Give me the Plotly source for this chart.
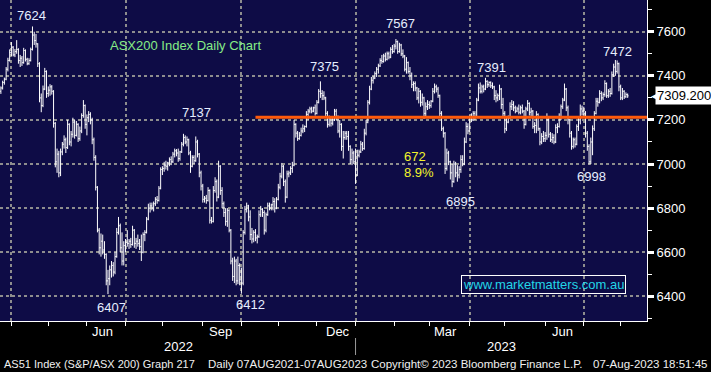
import pandas as pd
import plotly.graph_objects as go

# ---------------- data ----------------
opens = [
    7330, 7345, 7370, 7385, 7430, 7470, 7505, 7530, 7495, 7510,
    7520, 7470, 7480, 7460, 7515, 7475, 7455, 7470, 7520, 7585,
    7560, 7545, 7455, 7300, 7265, 7340, 7420, 7320, 7335, 7350,
    7330, 7185, 7010, 7045, 6960, 7055, 7090, 7110, 7075, 7180,
    7100, 7135, 7190, 7130, 7180, 7115, 7150, 7220, 7265, 7180,
    7210, 7225, 7200, 7110, 7030, 6895, 6700, 6620, 6650, 6610,
    6590, 6470, 6480, 6520, 6540, 6510, 6580, 6690, 6720, 6620,
    6560, 6630, 6645, 6640, 6650, 6635, 6700, 6640, 6650, 6640,
    6625, 6600, 6680, 6690, 6750, 6800, 6810, 6800, 6820, 6840,
    6835, 6890, 6975, 6980, 6995, 6990, 7005, 7020, 7010, 7045,
    7060, 7050, 7025, 7055, 7090, 7120, 7100, 7110, 7050, 6990,
    7030, 7015, 7100, 7045, 6960, 6900, 6840, 6845, 6835, 6880,
    6745, 6740, 6880, 6920, 6850, 6990, 6880, 6820, 6780, 6740,
    6790, 6700, 6560, 6490, 6560, 6470, 6540, 6475, 6460, 6690,
    6795, 6810, 6760, 6680, 6660, 6690, 6665, 6670, 6770, 6795,
    6780, 6700, 6770, 6810, 6800, 6815, 6830, 6800, 6840, 6895,
    6945, 6990, 6920, 6850, 6955, 6960, 6980, 6995, 7180, 7140,
    7115, 7130, 7150, 7160, 7170, 7225, 7240, 7250, 7240, 7255,
    7230, 7280, 7330, 7320, 7310, 7300, 7230, 7180, 7210, 7185,
    7200, 7240, 7215, 7150, 7180, 7080, 7120, 7140, 7125, 7080,
    7020, 7050, 7010, 6950, 7040, 7055, 7090, 7070, 7140, 7190,
    7280, 7340, 7380, 7390, 7410, 7430, 7445, 7470, 7465, 7490,
    7475, 7500, 7485, 7520, 7510, 7535, 7555, 7510, 7540, 7500,
    7490, 7430, 7460, 7420, 7400, 7360, 7365, 7345, 7300, 7330,
    7280, 7300, 7230, 7260, 7270, 7265, 7285, 7330, 7350, 7340,
    7310, 7230, 7160, 7140, 6980, 7050, 7010, 6960, 6920, 7000,
    6960, 6950, 6975, 7020, 7000, 7100, 7170, 7150, 7210, 7200,
    7230, 7215, 7290, 7345, 7330, 7350, 7340, 7375, 7360, 7370,
    7355, 7350, 7310, 7300, 7310, 7340, 7270, 7230, 7160, 7190,
    7210, 7260, 7270, 7255, 7240, 7250, 7235, 7255, 7240, 7180,
    7250, 7275, 7235, 7240, 7170, 7175, 7225, 7160, 7100, 7125,
    7115, 7130, 7200, 7135, 7110, 7120, 7100, 7165, 7170, 7215,
    7260, 7290, 7340, 7255, 7200, 7140, 7080, 7110, 7090, 7170,
    7200, 7250, 7240, 7230, 7140, 7080, 7010, 7100, 7160, 7230,
    7285, 7280, 7320, 7300, 7315, 7365, 7310, 7330, 7320, 7405,
    7440, 7420, 7455, 7350, 7300, 7330, 7305, 7315,
]
highs = [
    7352, 7378, 7392, 7440, 7482, 7520, 7553, 7535, 7522, 7562,
    7525, 7495, 7490, 7527, 7520, 7482, 7480, 7528, 7624, 7600,
    7590, 7548, 7462, 7320, 7356, 7436, 7425, 7352, 7362, 7358,
    7335, 7190, 7070, 7060, 7070, 7100, 7130, 7120, 7200, 7185,
    7150, 7210, 7200, 7195, 7185, 7170, 7230, 7290, 7270, 7225,
    7240, 7235, 7210, 7120, 7040, 6900, 6710, 6685, 6680, 6650,
    6595, 6520, 6540, 6560, 6555, 6600, 6710, 6760, 6730, 6690,
    6650, 6660, 6700, 6660, 6665, 6720, 6705, 6665, 6680, 6660,
    6680, 6690, 6700, 6760, 6820, 6825, 6825, 6830, 6850, 6855,
    6900, 6985, 6990, 7010, 7015, 7010, 7030, 7035, 7055, 7070,
    7068, 7070, 7060, 7100, 7137, 7130, 7125, 7115, 7060, 7040,
    7040, 7125, 7110, 7050, 6970, 6910, 6855, 6860, 6895, 6885,
    6760, 6900, 6940, 6930, 7015, 6995, 6895, 6830, 6800, 6800,
    6795, 6705, 6575, 6580, 6570, 6580, 6550, 6530, 6700, 6810,
    6825, 6815, 6790, 6710, 6700, 6705, 6680, 6790, 6810, 6800,
    6790, 6780, 6825, 6825, 6820, 6850, 6845, 6850, 6910, 6960,
    7005, 6995, 6930, 6970, 6970, 6990, 7010, 7200, 7185, 7150,
    7145, 7165, 7180, 7175, 7240, 7250, 7260, 7260, 7260, 7270,
    7290, 7340, 7375, 7335, 7330, 7305, 7240, 7220, 7215, 7210,
    7250, 7250, 7220, 7200, 7185, 7150, 7150, 7150, 7150, 7085,
    7070, 7060, 7070, 7065, 7065, 7105, 7100, 7160, 7200, 7290,
    7355, 7395, 7400, 7420, 7440, 7455, 7480, 7495, 7500, 7505,
    7510, 7510, 7530, 7540, 7545, 7567, 7560, 7550, 7545, 7520,
    7495, 7485, 7465, 7440, 7415, 7375, 7375, 7350, 7345, 7335,
    7320, 7305, 7280, 7290, 7285, 7290, 7345, 7365, 7360, 7350,
    7315, 7240, 7170, 7145, 7070, 7060, 7015, 7000, 7015, 7010,
    6995, 6990, 7040, 7040, 7120, 7190, 7185, 7220, 7230, 7240,
    7240, 7300, 7365, 7370, 7360, 7360, 7391, 7380, 7375, 7375,
    7370, 7355, 7335, 7320, 7360, 7345, 7300, 7240, 7210, 7220,
    7280, 7290, 7285, 7265, 7260, 7270, 7265, 7270, 7245, 7260,
    7290, 7280, 7255, 7245, 7190, 7240, 7230, 7165, 7140, 7150,
    7145, 7230, 7210, 7145, 7140, 7135, 7180, 7185, 7230, 7270,
    7300, 7365, 7345, 7265, 7205, 7150, 7120, 7120, 7180, 7210,
    7270, 7265, 7260, 7240, 7150, 7090, 7120, 7175, 7240, 7300,
    7300, 7335, 7330, 7325, 7380, 7370, 7340, 7345, 7420, 7455,
    7472, 7470, 7460, 7360, 7345, 7335, 7325, 7320,
]
lows = [
    7318, 7338, 7360, 7380, 7420, 7465, 7490, 7488, 7485, 7500,
    7455, 7440, 7445, 7455, 7465, 7448, 7450, 7465, 7515, 7540,
    7528, 7440, 7280, 7235, 7258, 7335, 7300, 7305, 7310, 7315,
    7165, 6985, 6960, 6940, 6945, 7040, 7070, 7050, 7068, 7085,
    7080, 7120, 7115, 7125, 7100, 7105, 7140, 7210, 7160, 7130,
    7190, 7180, 7090, 7015, 6880, 6690, 6590, 6580, 6590, 6570,
    6450, 6410, 6450, 6485, 6490, 6500, 6575, 6680, 6600, 6540,
    6540, 6600, 6625, 6615, 6620, 6630, 6620, 6615, 6625, 6610,
    6560, 6595, 6650, 6685, 6745, 6780, 6790, 6785, 6810, 6820,
    6830, 6885, 6950, 6965, 6975, 6970, 6990, 6995, 7005, 7030,
    7035, 7010, 7015, 7050, 7080, 7090, 7080, 7040, 6960, 6985,
    7000, 7010, 7030, 6940, 6880, 6825, 6825, 6820, 6830, 6730,
    6730, 6735, 6870, 6830, 6845, 6860, 6800, 6760, 6720, 6715,
    6690, 6545, 6470, 6460, 6450, 6455, 6450, 6412, 6450, 6680,
    6780, 6740, 6655, 6640, 6645, 6650, 6640, 6665, 6760, 6760,
    6680, 6690, 6765, 6790, 6790, 6790, 6780, 6795, 6835, 6885,
    6935, 6900, 6825, 6845, 6940, 6950, 6960, 6990, 7120, 7105,
    7110, 7125, 7140, 7145, 7165, 7200, 7230, 7230, 7235, 7220,
    7225, 7275, 7300, 7290, 7290, 7210, 7165, 7170, 7170, 7175,
    7195, 7200, 7140, 7120, 7060, 7025, 7110, 7110, 7060, 7000,
    6995, 7000, 6910, 6945, 7030, 7050, 7060, 7065, 7130, 7185,
    7270, 7335, 7365, 7385, 7395, 7410, 7440, 7455, 7460, 7465,
    7470, 7475, 7480, 7500, 7505, 7520, 7500, 7505, 7490, 7480,
    7420, 7410, 7410, 7380, 7345, 7330, 7330, 7290, 7275, 7260,
    7265, 7205, 7210, 7245, 7250, 7255, 7280, 7320, 7325, 7300,
    7215, 7150, 7120, 6955, 6970, 6995, 6930, 6895, 6915, 6940,
    6920, 6935, 6960, 6990, 6995, 7095, 7135, 7145, 7190, 7195,
    7200, 7210, 7285, 7320, 7320, 7325, 7335, 7345, 7350, 7345,
    7340, 7290, 7280, 7285, 7290, 7250, 7210, 7140, 7150, 7185,
    7205, 7245, 7240, 7230, 7235, 7225, 7225, 7230, 7160, 7175,
    7240, 7220, 7210, 7160, 7140, 7140, 7150, 7085, 7090, 7100,
    7100, 7110, 7120, 7100, 7095, 7090, 7095, 7140, 7165, 7200,
    7250, 7285, 7240, 7180, 7120, 7065, 7070, 7075, 7085, 7150,
    7180, 7220, 7220, 7120, 7060, 6998, 7000, 7040, 7150, 7225,
    7260, 7275, 7285, 7290, 7305, 7300, 7300, 7305, 7315, 7395,
    7400, 7410, 7330, 7290, 7290, 7295, 7300, 7300,
]
closes = [
    7345, 7370, 7385, 7430, 7470, 7505, 7530, 7495, 7510, 7520,
    7470, 7480, 7460, 7515, 7475, 7455, 7470, 7520, 7585, 7560,
    7545, 7455, 7300, 7265, 7340, 7420, 7320, 7335, 7350, 7330,
    7185, 7010, 7045, 6960, 7055, 7090, 7110, 7075, 7180, 7100,
    7135, 7190, 7130, 7180, 7115, 7150, 7220, 7265, 7180, 7210,
    7225, 7200, 7110, 7030, 6895, 6700, 6620, 6650, 6610, 6590,
    6470, 6480, 6520, 6540, 6510, 6580, 6690, 6720, 6620, 6560,
    6630, 6645, 6640, 6650, 6635, 6700, 6640, 6650, 6640, 6625,
    6600, 6680, 6690, 6750, 6800, 6810, 6800, 6820, 6840, 6835,
    6890, 6975, 6980, 6995, 6990, 7005, 7020, 7010, 7045, 7060,
    7050, 7025, 7055, 7090, 7120, 7100, 7110, 7050, 6990, 7030,
    7015, 7100, 7045, 6960, 6900, 6840, 6845, 6835, 6880, 6745,
    6740, 6880, 6920, 6850, 6990, 6880, 6820, 6780, 6740, 6790,
    6700, 6560, 6490, 6560, 6470, 6540, 6475, 6460, 6690, 6795,
    6810, 6760, 6680, 6660, 6690, 6665, 6670, 6770, 6795, 6780,
    6700, 6770, 6810, 6800, 6815, 6830, 6800, 6840, 6895, 6945,
    6990, 6920, 6850, 6955, 6960, 6980, 6995, 7180, 7140, 7115,
    7130, 7150, 7160, 7170, 7225, 7240, 7250, 7240, 7255, 7230,
    7280, 7330, 7320, 7310, 7300, 7230, 7180, 7210, 7185, 7200,
    7240, 7215, 7150, 7180, 7080, 7120, 7140, 7125, 7080, 7020,
    7050, 7010, 6950, 7040, 7055, 7090, 7070, 7140, 7190, 7280,
    7340, 7380, 7390, 7410, 7430, 7445, 7470, 7465, 7490, 7475,
    7500, 7485, 7520, 7510, 7535, 7555, 7510, 7540, 7500, 7490,
    7430, 7460, 7420, 7400, 7360, 7365, 7345, 7300, 7330, 7280,
    7300, 7230, 7260, 7270, 7265, 7285, 7330, 7350, 7340, 7310,
    7230, 7160, 7140, 6980, 7050, 7010, 6960, 6920, 7000, 6960,
    6950, 6975, 7020, 7000, 7100, 7170, 7150, 7210, 7200, 7230,
    7215, 7290, 7345, 7330, 7350, 7340, 7375, 7360, 7370, 7355,
    7350, 7310, 7300, 7310, 7340, 7270, 7230, 7160, 7190, 7210,
    7260, 7270, 7255, 7240, 7250, 7235, 7255, 7240, 7180, 7250,
    7275, 7235, 7240, 7170, 7175, 7225, 7160, 7100, 7125, 7115,
    7130, 7200, 7135, 7110, 7120, 7100, 7165, 7170, 7215, 7260,
    7290, 7340, 7255, 7200, 7140, 7080, 7110, 7090, 7170, 7200,
    7250, 7240, 7230, 7140, 7080, 7010, 7100, 7160, 7230, 7285,
    7280, 7320, 7300, 7315, 7365, 7310, 7330, 7320, 7405, 7440,
    7420, 7455, 7350, 7300, 7330, 7305, 7315, 7309.2,
]
dates = pd.bdate_range(end="2023-08-07", periods=len(closes))

level_value = 7212
level_start = "2022-10-13"
last_price = 7309.2

peak_texts = ["7624", "7137", "7375", "7567", "7391", "7472", "6407", "6412", "6895", "6998"]
move_texts = ["672", "8.9%"]
title_text = "ASX200 Index Daily Chart"
site_text = "www.marketmatters.com.au"
month_labels = ["Jun", "Sep", "Dec", "Mar", "Jun"]
month_label_dates = ["2022-06-14", "2022-09-15", "2022-12-19", "2023-03-14", "2023-06-15"]
year_labels = ["2022", "2023"]
y_ticks = [6400, 6600, 6800, 7000, 7200, 7400, 7600]
footer_texts = [
    "AS51 Index (S&amp;P/ASX 200) Graph 217",
    "Daily 07AUG2021-07AUG2023",
    "Copyright© 2023 Bloomberg Finance L.P.",
    "07-Aug-2023 18:51:45",
]

# ---------------- styling ----------------
FONT = "Liberation Sans, Arial, sans-serif"
NAVY = "#0e0c46"
GRID = "#8e8e8e"
LABEL = "#e6eeff"
W, H = 711, 372
ML, MR, MT, MB = 0, 64, 0, 51
PW, PH = W - ML - MR, H - MT - MB

x_range = ["2022-03-23 12:00", "2023-08-22"]
month_starts = pd.date_range("2022-04-01", "2023-08-01", freq="BMS")
quarter_starts = [d for d in month_starts if d.month in (1, 4, 7, 10)]


def px(xp):
    return xp / PW


def py(yp):
    return 1 - yp / PH


fig = go.Figure()
fig.add_trace(go.Ohlc(
    x=dates, open=opens, high=highs, low=lows, close=closes,
    increasing=dict(line=dict(color="white", width=1)),
    decreasing=dict(line=dict(color="white", width=1)),
    tickwidth=0.5, hoverinfo="skip", showlegend=False,
))
fig.add_trace(go.Scatter(
    x=[level_start, x_range[1]], y=[level_value, level_value], mode="lines",
    line=dict(color="#ff5a0a", width=3), hoverinfo="skip", showlegend=False,
))

ann = []
peak_pos = [(31.7, 15), (196, 113), (324.3, 66), (400.7, 23), (491.7, 67),
            (617.3, 51), (111.7, 307.7), (250.7, 304.3), (460, 201.7), (591, 177)]
for t, (xp, yp) in zip(peak_texts, peak_pos):
    ann.append(dict(text=t, x=px(xp), y=py(yp), xref="paper", yref="paper",
                    showarrow=False, xanchor="center", yanchor="middle",
                    font=dict(family=FONT, size=13, color=LABEL)))
for t, yp in zip(move_texts, [156, 173]):
    ann.append(dict(text=t, x=px(402), y=py(yp), xref="paper", yref="paper",
                    showarrow=False, xanchor="left", yanchor="middle",
                    font=dict(family=FONT, size=13, color="#f4f42a")))
ann.append(dict(text=title_text, x=px(108), y=py(45), xref="paper", yref="paper",
                showarrow=False, xanchor="left", yanchor="middle",
                font=dict(family=FONT, size=13, color="#86ec86")))
ann.append(dict(text=site_text, x=px(543.8), y=py(284.5), xref="paper", yref="paper",
                showarrow=False, xanchor="center", yanchor="middle",
                bordercolor="white", borderwidth=1, borderpad=1,
                font=dict(family=FONT, size=13, color="#22d6e6")))
ann.append(dict(text=f"{last_price:.3f}", x=1.0 + 8 / PW, y=last_price, xref="paper", yref="y",
                showarrow=False, xanchor="left", yanchor="middle",
                bgcolor="white", borderpad=1,
                font=dict(family=FONT, size=13, color="black")))
ann.append(dict(text="◀", x=1.0 + 2 / PW, y=last_price, xref="paper", yref="y",
                showarrow=False, xanchor="left", yanchor="middle",
                font=dict(family="DejaVu Sans", size=9, color="white")))
for t, d in zip(month_labels, month_label_dates):
    ann.append(dict(text=t, x=d, y=py(331.7), xref="x", yref="paper",
                    showarrow=False, xanchor="center", yanchor="middle",
                    font=dict(family=FONT, size=13, color="white")))
for t, xp in zip(year_labels, [178, 501.5]):
    ann.append(dict(text=t, x=px(xp), y=py(346.7), xref="paper", yref="paper",
                    showarrow=False, xanchor="center", yanchor="middle",
                    font=dict(family=FONT, size=13, color="white")))
footer_pos = [(2, "left", 11), (206, "left", 11.5), (369, "left", 11.5), (709, "right", 11.5)]
for t, (xp, anc, fs) in zip(footer_texts, footer_pos):
    ann.append(dict(text=t, x=px(xp), y=py(364), xref="paper", yref="paper",
                    showarrow=False, xanchor=anc, yanchor="middle",
                    font=dict(family=FONT, size=fs, color="#f0f0f0")))

shapes = [dict(type="line", xref="x", yref="paper", x0="2023-01-02", x1="2023-01-02",
               y0=py(338), y1=py(355), line=dict(color="#9a9a9a", width=1))]

fig.update_layout(
    width=W, height=H, autosize=False,
    margin=dict(l=ML, r=MR, t=MT, b=MB, pad=0),
    paper_bgcolor="black", plot_bgcolor=NAVY,
    showlegend=False, annotations=ann, shapes=shapes,
    xaxis=dict(
        type="date", range=x_range, rangebreaks=[dict(bounds=["sat", "mon"])],
        rangeslider=dict(visible=False), automargin=False,
        tickmode="array", tickvals=quarter_starts, ticktext=[""] * len(quarter_starts),
        ticks="outside", ticklen=4, tickcolor="white", tickwidth=1,
        showgrid=True, gridcolor=GRID, griddash="dot", gridwidth=2,
        minor=dict(tickmode="array", tickvals=list(month_starts), ticks="outside",
                   ticklen=4, tickcolor="white", tickwidth=1, showgrid=False),
        showline=True, linecolor="white", linewidth=1, zeroline=False,
    ),
    yaxis=dict(
        side="right", range=[6288, 7744], automargin=False,
        tickmode="array", tickvals=y_ticks,
        ticks="outside", ticklen=6, tickwidth=3, tickcolor="white",
        tickfont=dict(family=FONT, size=13, color="white"),
        showgrid=True, gridcolor=GRID, griddash="dot", gridwidth=2,
        minor=dict(dtick=100, tick0=6300, ticks="outside", ticklen=4,
                   tickcolor="white", tickwidth=1, showgrid=False),
        showline=True, linecolor="white", linewidth=1, zeroline=False,
    ),
)

fig.write_html(
    "out.html",
    config={"displayModeBar": False},
    post_script="document.body.style.margin='0';document.body.style.background='black';",
)
